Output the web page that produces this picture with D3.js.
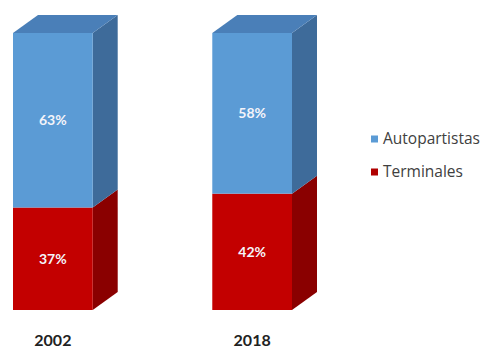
<!DOCTYPE html>
<html>
<head>
<meta charset="utf-8">
<script src="https://cdn.jsdelivr.net/npm/d3@7"></script>
<style>
  html, body { margin: 0; padding: 0; background: #ffffff; }
  svg { display: block; }
</style>
</head>
<body>
<svg id="chart" width="487" height="354"></svg>
<script>
// Share of the automotive sector by segment (percent)
const years = ["2002", "2018"];
const autopartistas = [63, 58];
const terminales = [37, 42];
const seriesNames = ["Autopartistas", "Terminales"];

const depthX = 25, depthY = 18;

const colors = {
  Autopartistas: { front: "#5b9bd5", side: "#3e6b9a", top: "#4a7fb8", legend: "#5b9bd5" },
  Terminales:    { front: "#c30000", side: "#8a0000", top: "#a30000", legend: "#b00000" }
};

const svg = d3.select("#chart");

const x = d3.scaleBand()
  .domain(years)
  .range([13, 292])
  .paddingInner(0.6)
  .paddingOuter(0);

const y = d3.scaleLinear()
  .domain([0, 100])
  .range([310, 33]);

// stack: Terminales on bottom, Autopartistas on top
const rows = years.map((yr, i) => ({
  year: yr,
  Terminales: terminales[i],
  Autopartistas: autopartistas[i]
}));
const stack = d3.stack().keys(["Terminales", "Autopartistas"]);
const layers = stack(rows);

const bars = svg.append("g").attr("class", "bars");

layers.forEach((layer, li) => {
  const key = layer.key;
  const c = colors[key];
  const isTop = li === layers.length - 1;
  layer.forEach(d => {
    const x0 = x(d.data.year);
    const x1 = x0 + x.bandwidth();
    const yb = y(d[0]);
    const yt = y(d[1]);
    const g = bars.append("g");
    // right side face
    g.append("path")
      .attr("d", `M${x1},${yt} L${x1 + depthX},${yt - depthY} L${x1 + depthX},${yb - depthY} L${x1},${yb} Z`)
      .attr("fill", c.side);
    // top face on the uppermost segment
    if (isTop) {
      g.append("path")
        .attr("d", `M${x0},${yt} L${x0 + depthX},${yt - depthY} L${x1 + depthX},${yt - depthY} L${x1},${yt} Z`)
        .attr("fill", c.top);
    }
    // front face
    g.append("rect")
      .attr("x", x0)
      .attr("y", yt)
      .attr("width", x.bandwidth())
      .attr("height", yb - yt)
      .attr("fill", c.front);
    // value label
    g.append("text")
      .attr("x", x0 + x.bandwidth() / 2)
      .attr("y", (yt + yb) / 2)
      .attr("dy", "0.35em")
      .attr("text-anchor", "middle")
      .attr("font-family", "Lato, 'Open Sans', sans-serif")
      .attr("font-weight", "bold")
      .attr("font-size", 14)
      .attr("fill", "#f4f4fa")
      .text(d.data[key] + "%");
  });
});

// category axis labels
const xAxis = d3.axisBottom(x).tickSize(0).tickPadding(0);
const axisG = svg.append("g")
  .attr("transform", "translate(0,335)")
  .call(xAxis);
axisG.select(".domain").remove();
axisG.selectAll("text")
  .attr("font-family", "Lato, 'Open Sans', sans-serif")
  .attr("font-weight", "bold")
  .attr("font-size", 16)
  .attr("fill", "#222222");

// legend
const ly = d3.scalePoint().domain(seriesNames).range([139, 172]);
const legend = svg.append("g").attr("class", "legend");
seriesNames.forEach(name => {
  legend.append("rect")
    .attr("x", 371)
    .attr("y", ly(name) - 3.5)
    .attr("width", 7)
    .attr("height", 7)
    .attr("fill", colors[name].legend);
  legend.append("text")
    .attr("x", 383)
    .attr("y", ly(name))
    .attr("dy", "0.35em")
    .attr("font-family", "'Open Sans', Lato, sans-serif")
    .attr("font-size", 15.5)
    .attr("fill", "#404040")
    .text(name);
});
</script>
</body>
</html>
